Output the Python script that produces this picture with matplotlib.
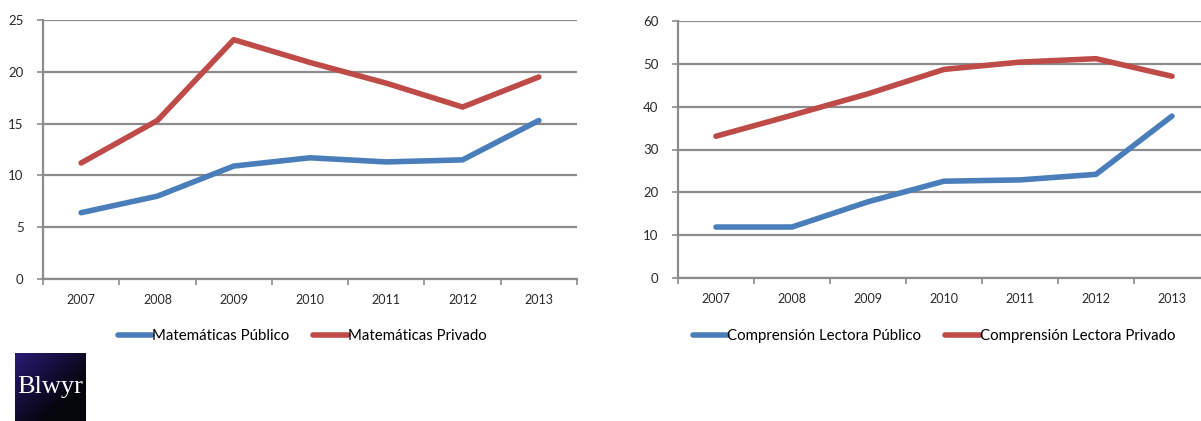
import numpy as np
import matplotlib.pyplot as plt

years = ['2007', '2008', '2009', '2010', '2011', '2012', '2013']

mat_publico = [6.4, 8.0, 10.9, 11.7, 11.3, 11.5, 15.3]
mat_privado = [11.2, 15.3, 23.1, 20.9, 18.9, 16.6, 19.5]

lect_publico = [11.9, 11.9, 17.8, 22.6, 22.9, 24.2, 37.8]
lect_privado = [33.1, 38.0, 43.0, 48.7, 50.4, 51.2, 47.1]

blue = '#4a7ebb'
red = '#be4b48'
grid_col = '#8c8c8c'
W, H = 1201, 421

plt.rcParams['font.family'] = ['Lato', 'DejaVu Sans']

fig = plt.figure(figsize=(W / 100, H / 100), dpi=100)


def make_chart(rect, pub, priv, ymax, step, labels):
    ax = fig.add_axes(rect)
    x = np.arange(len(years))
    ax.plot(x, pub, color=blue, lw=4, solid_capstyle='round', label=labels[0], zorder=3)
    ax.plot(x, priv, color=red, lw=4, solid_capstyle='round', label=labels[1], zorder=3)
    ax.set_xlim(-0.5, len(years) - 0.5)
    ax.set_ylim(0, ymax)
    ax.set_yticks(np.arange(0, ymax + 1, step))
    ax.yaxis.grid(True, color=grid_col, lw=1.6)
    ax.set_axisbelow(True)
    # category ticks sit between the labels, like Excel
    ax.set_xticks(np.arange(-0.5, len(years), 1))
    ax.set_xticklabels([])
    ax.set_xticks(x, minor=True)
    ax.set_xticklabels(years, minor=True)
    ax.tick_params(axis='x', which='major', length=4, color=grid_col, width=1.2, direction='out')
    ax.tick_params(axis='x', which='minor', length=0, pad=11, labelsize=9, labelcolor='#2a2a2a')
    ax.tick_params(axis='y', length=4, color=grid_col, width=1.2, pad=10, labelsize=9.5,
                   labelcolor='#2a2a2a')
    for s in ['top', 'right']:
        ax.spines[s].set_visible(False)
    for s in ['left', 'bottom']:
        ax.spines[s].set_color(grid_col)
        ax.spines[s].set_linewidth(1.6)
    return ax


ax1 = make_chart([43 / W, 1 - 279 / H, (577 - 43) / W, (279 - 20) / H],
                 mat_publico, mat_privado, 25, 5,
                 ['Matemáticas Público', 'Matemáticas Privado'])
ax2 = make_chart([678 / W, 1 - 278 / H, (1210 - 678) / W, (278 - 21) / H],
                 lect_publico, lect_privado, 60, 10,
                 ['Comprensión Lectora Público', 'Comprensión Lectora Privado'])

fig.legend(*ax1.get_legend_handles_labels(), loc='center', bbox_to_anchor=(302 / W, 1 - 336 / H),
           ncol=2, frameon=False, fontsize=10.8, handlelength=2.3, handletextpad=0.0,
           columnspacing=1.6)
fig.legend(*ax2.get_legend_handles_labels(), loc='center', bbox_to_anchor=(934 / W, 1 - 336 / H),
           ncol=2, frameon=False, fontsize=10.8, handlelength=2.3, handletextpad=0.0,
           columnspacing=1.6)

# small logo in the lower left corner
logo = fig.add_axes([15 / W, 0, 71 / W, 68 / H])
gx, gy = np.meshgrid(np.linspace(0, 1, 50), np.linspace(0, 1, 50))
grad = np.clip(1 - (gx + (1 - gy)) / 1.4, 0, 1)
img = np.zeros((50, 50, 3))
img[..., 0] = 0.02 + 0.14 * grad
img[..., 1] = 0.02 + 0.08 * grad
img[..., 2] = 0.05 + 0.40 * grad
logo.imshow(img[::-1], extent=[0, 1, 0, 1], aspect='auto')
logo.text(0.5, 0.5, 'Blwyr', color='white', ha='center', va='center',
          family='Liberation Serif', fontsize=19)
logo.set_axis_off()

fig.savefig('out.png', dpi=100)
